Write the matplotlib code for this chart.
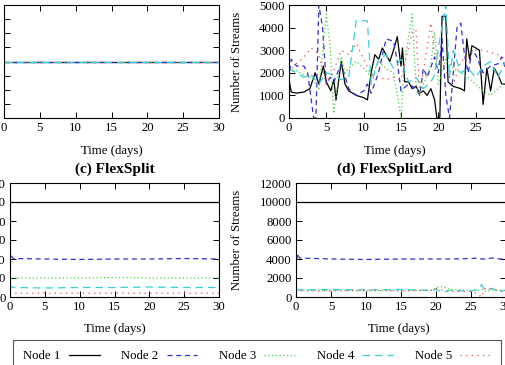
import matplotlib
matplotlib.use('Agg')
from matplotlib import pyplot as plt

plt.rcParams['font.family'] = ['Liberation Serif', 'DejaVu Serif']
plt.rcParams['font.size'] = 9.2

W, H = 505, 365

node_names = ['Node 1', 'Node 2', 'Node 3', 'Node 4', 'Node 5']
node_colors = ['black', '#2f2fd6', '#3fd43f', '#35d0da', '#e84a4a']
node_dashes = [None, (4, 3), (1, 2), (6, 4), (1, 3.5)]

# (a) all nodes get the same share
a_days = [0, 30]
a_value = [2000, 2000]

# (b) noisy per-node traces (day, streams)
b_days = {
  'Node 1': [0, 0.3, 1, 2, 2.8, 3.5, 4, 4.6, 5, 5.6, 6, 6.3, 7, 7.5, 8, 9, 10, 10.5,
             11, 11.5, 12, 12.5, 13, 13.5, 14, 14.5, 15, 15.2, 15.5, 16, 16.5, 17,
             17.5, 18, 18.5, 19, 19.5, 19.8, 20.2, 20.5, 21, 21.3, 22, 23, 23.5, 23.8,
             24.2, 24.5, 25.5, 26, 26.5, 27, 27.5, 28, 28.5, 29, 29.5, 30],
  'Node 2': [0, 0.3, 1, 2, 2.5, 3.3, 3.6, 4, 4.5, 5, 5.5, 6, 7, 8, 9, 10, 10.5, 11,
             12, 13, 14, 14.5, 15, 16, 17, 17.5, 18, 18.5, 19.5, 20, 20.5, 21, 21.5,
             22, 22.5, 23, 23.5, 24, 24.5, 25, 26, 27, 28, 28.5, 29, 29.5, 30],
  'Node 3': [0, 1, 2, 3, 4, 5, 5.5, 6, 7, 7.5, 8, 9, 10, 11, 12, 13, 14, 15, 15.5,
             16.5, 17, 17.5, 19, 19.5, 20, 21, 22, 23, 24, 25, 26, 27, 28, 29, 30],
  'Node 4': [0, 1, 2, 3, 4, 5, 6, 7, 8, 9, 10.5, 11, 12, 13, 14, 15, 16, 17, 18, 19,
             19.5, 20, 21, 21.5, 22, 23, 24, 25, 26, 27, 28, 29, 30],
  'Node 5': [0, 1, 2, 3, 4, 5, 6, 7, 8, 9, 10, 11, 12, 13, 14, 15, 16.5, 17, 17.5,
             19, 19.5, 20, 21, 22, 23, 24, 25, 26, 27, 28, 29, 30],
}
b_vals = {
  'Node 1': [1700, 1150, 1100, 1150, 1300, 2000, 1500, 2300, 1600, 1200, 1700, 800,
             2500, 1500, 1200, 1000, 900, 800, 2000, 2800, 2600, 3100, 2800, 2500,
             3000, 3600, 2300, 3100, 1600, 1600, 1300, 1400, 1100, 1200, 1000, 1300,
             800, 0, 0, 4500, 4500, 1600, 1400, 1300, 1200, 3500, 2600, 3200, 3000,
             600, 2200, 1200, 2200, 1900, 1500, 1500, 2500, 2000],
  'Node 2': [1700, 2600, 2300, 2300, 2000, 0, 0, 5000, 4000, 1500, 1800, 1600, 2400,
             1300, 1000, 1200, 1500, 1100, 2000, 3500, 3400, 2500, 1200, 1500, 1300,
             1000, 2200, 1800, 2700, 2000, 3500, 1000, 0, 2000, 4000, 4200, 2800, 2000,
             3000, 2800, 2000, 2300, 2400, 2700, 2200, 1300, 2500],
  'Node 3': [2000, 2100, 1900, 1800, 1300, 4600, 3200, 200, 2700, 2000, 2200, 2500,
             2200, 1800, 2500, 2200, 2000, 0, 2500, 4600, 1500, 1000, 2400, 3800, 1500,
             2600, 2200, 2000, 1800, 1500, 1200, 1000, 1300, 1600, 1800],
  'Node 4': [2200, 2000, 1800, 1900, 1500, 2000, 1900, 1700, 1800, 4300, 4300, 1500,
             2600, 2800, 2200, 2600, 1600, 1800, 1300, 1600, 1900, 3100, 5000, 1800,
             3000, 2000, 2200, 1800, 2300, 2500, 1800, 2500, 2600],
  'Node 5': [2000, 2400, 2700, 3100, 2800, 1500, 2100, 3000, 2800, 3300, 2600, 1900,
             1800, 1700, 1800, 1700, 3800, 3900, 1000, 4200, 2800, 2500, 2100, 1500,
             2500, 2800, 3000, 3000, 2900, 2800, 2600, 3000],
}

# (c) FlexSplit
c_days = [0, 0.2, 0.5, 5, 10, 15, 20, 25, 30]
c_vals = {
  'Node 1': [10000, 10000, 10000, 10000, 10000, 10000, 10000, 10000, 10000],
  'Node 2': [3300, 4300, 4050, 4000, 3950, 4000, 4000, 4050, 4000],
  'Node 3': [1500, 2000, 2000, 2000, 2000, 2050, 2000, 2000, 2000],
  'Node 4': [800, 1100, 1000, 950, 1000, 1000, 1050, 1000, 1000],
  'Node 5': [300, 400, 400, 400, 400, 400, 400, 400, 400],
}

# (d) FlexSplitLard
d_days = [0, 0.2, 0.5, 5, 10, 15, 19.5, 20, 21, 22, 25, 26, 26.5, 27, 28, 29, 30]
d_vals = {
  'Node 1': [10000] * 17,
  'Node 2': [3000, 4600, 4100, 4000, 3950, 4000, 4000, 4000, 4000, 4000, 4050, 4100,
             4000, 4000, 4100, 4000, 4000],
  'Node 3': [600, 700, 700, 700, 650, 700, 700, 1000, 1100, 800, 700, 700, 800, 600,
             700, 700, 700],
  'Node 4': [700, 800, 750, 800, 750, 800, 700, 800, 500, 700, 600, 800, 1300, 700,
             900, 600, 700],
  'Node 5': [600, 700, 650, 650, 700, 650, 700, 900, 700, 600, 600, 300, 0, 900,
             900, 600, 700],
}


def add_axes(fig, left, top, right, bottom):
  return fig.add_axes([left / W, 1 - bottom / H, (right - left) / W, (bottom - top) / H])


def style(ax, ymax, ystep):
  ax.set_xlim(0, 30)
  ax.set_ylim(0, ymax)
  ax.set_xticks(range(0, 31, 5))
  ax.set_yticks(range(0, ymax + 1, ystep))
  ax.tick_params(direction='in', top=True, right=True, length=4.5, width=0.7, pad=3)
  for s in ax.spines.values():
    s.set_linewidth(0.8)


def draw(ax, days, vals, lw=0.9):
  for i, name in enumerate(node_names):
    x = days[name] if isinstance(days, dict) else days
    y = vals[name] if isinstance(vals, dict) else vals
    line, = ax.plot(x, y, color=node_colors[i], lw=lw, label=name)
    if node_dashes[i] is not None:
      line.set_dashes(node_dashes[i])


fig = plt.figure(figsize=(W / 100, H / 100), dpi=100)

ax_a = add_axes(fig, 4, 5, 219, 118)
style(ax_a, 4000, 500)
ax_a.tick_params(axis='y', pad=8)
for i in [0, 2, 4, 1, 3]:
  line, = ax_a.plot(a_days, a_value, color=node_colors[i], lw=0.9)
  if node_dashes[i] is not None:
    line.set_dashes(node_dashes[i])
ax_a.set_xlabel('Time (days)')
ax_a.xaxis.set_label_coords(0.5, -0.24)

ax_b = add_axes(fig, 289, 5, 513, 118)
style(ax_b, 5000, 1000)
draw(ax_b, b_days, b_vals)
ax_b.set_xlabel('Time (days)')
ax_b.xaxis.set_label_coords(0.473, -0.24)
ax_b.set_ylabel('Number of Streams')
ax_b.yaxis.set_label_coords(-0.205, 0.5)

ax_c = add_axes(fig, 10, 183, 219, 297)
style(ax_c, 12000, 2000)
draw(ax_c, c_days, c_vals)
ax_c.set_xlabel('Time (days)')
ax_c.xaxis.set_label_coords(0.5, -0.228)
ax_c.set_title('(c) FlexSplit', fontweight='bold', pad=7)

ax_d = add_axes(fig, 296, 183, 506, 297)
style(ax_d, 12000, 2000)
draw(ax_d, d_days, d_vals)
ax_d.set_xlabel('Time (days)')
ax_d.xaxis.set_label_coords(0.49, -0.228)
ax_d.set_ylabel('Number of Streams')
ax_d.yaxis.set_label_coords(-0.252, 0.5)
ax_d.set_title('(d) FlexSplitLard', fontweight='bold', pad=7, x=0.47)

handles, labels = ax_d.get_legend_handles_labels()
leg_top = 1 - 340 / H
leg = fig.legend(handles, labels, loc='upper left', ncol=5, mode='expand',
                 bbox_to_anchor=(13 / W, leg_top - 0.01, 488 / W, 0.01),
                 markerfirst=False, handlelength=2.4, handletextpad=0.65,
                 borderpad=0.8, borderaxespad=0, fancybox=False, framealpha=1,
                 edgecolor='#555555')
leg.get_frame().set_linewidth(0.8)

fig.savefig('out.png', dpi=100)
